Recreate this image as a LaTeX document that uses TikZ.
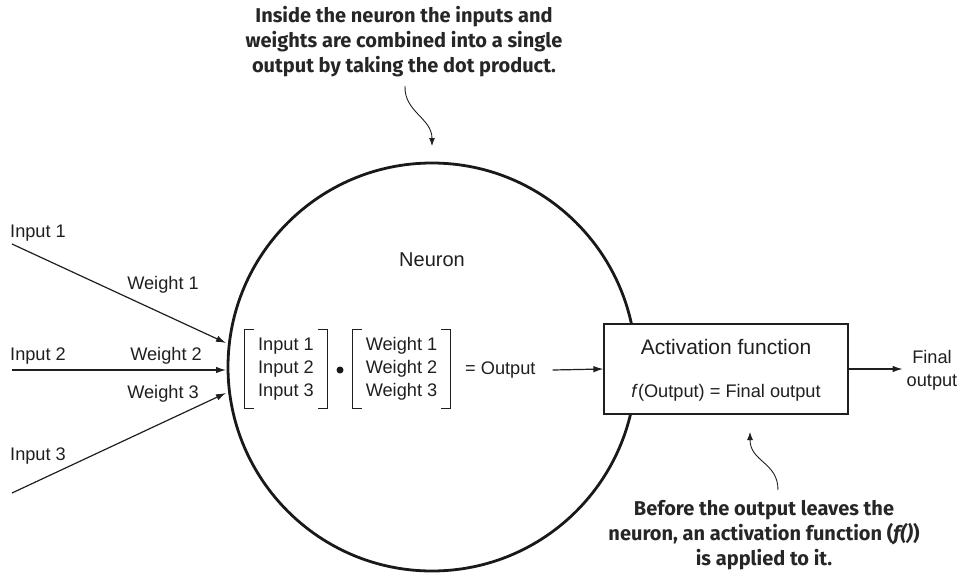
\documentclass[tikz,border=0pt]{standalone}
\usepackage{fontspec}
\setmainfont{Liberation Sans}
\newfontfamily\notefont{Fira Sans}
\usetikzlibrary{arrows.meta,calc}
\begin{document}
\begin{tikzpicture}[x=1pt,y=-1pt,
  lbl/.style={font=\fontsize{18.2}{23}\selectfont, inner sep=0, text=black!88},
  note/.style={font=\notefont\bfseries\fontsize{20}{25}\selectfont, align=center, inner sep=0, text=black!85},
  arr/.style={-{Latex[length=10pt,width=6.5pt]}, line width=1.2pt, black!88},
  curly/.style={-{Latex[length=8pt,width=6pt]}, line width=0.9pt, black!88},
  bracket/.style={line width=1.3pt, black!88},
  mat/.style={lbl, align=center, minimum height=78pt}]
\useasboundingbox (0,0) rectangle (961,576);

% neuron circle
\node[circle, draw=black!90, line width=2.8pt, minimum size=408pt, inner sep=0] (neuron) at (432,367) {};
\node[lbl, font=\fontsize{20}{24}\selectfont] (nlabel) at (432,260) {Neuron};

% top note
\node[note] (topnote) at (404,42) {Inside the neuron the inputs and\\weights are combined into a single\\output by taking the dot product.};
\coordinate (tn) at (405,86);
\coordinate (tip1) at (432,146);
\draw[curly] (tn) .. controls (404,112) and (432,118) .. (tip1);

% inputs
\node[lbl, anchor=west] (in1) at (10,233) {Input 1};
\node[lbl, anchor=west] (in2) at (10,356) {Input 2};
\node[lbl, anchor=west] (in3) at (10,456) {Input 3};
\coordinate (s1) at (12,244);
\coordinate (s2) at (12,370);
\coordinate (s3) at (12,493);
\coordinate (e1) at (226,343);
\coordinate (e2) at (226,370);
\coordinate (e3) at (226,393);
\draw[arr] (s1) -- (e1);
\draw[arr] (s2) -- (e2);
\draw[arr] (s3) -- (e3);
\node[lbl] (w1) at (163,285) {Weight 1};
\node[lbl] (w2) at (166,356) {Weight 2};
\node[lbl] (w3) at (163,394) {Weight 3};

% matrices
\node[mat, minimum width=82pt] (inmat) at (286,369) {Input 1\\Input 2\\Input 3};
\node[mat, minimum width=97pt] (wmat) at (401.5,369) {Weight 1\\Weight 2\\Weight 3};
\foreach \m in {inmat,wmat}{
  \draw[bracket] ([xshift=9pt]\m.north west) -| (\m.south west) -- ([xshift=9pt]\m.south west);
  \draw[bracket] ([xshift=-9pt]\m.north east) -| (\m.south east) -- ([xshift=-9pt]\m.south east);
}
\node[circle, fill=black!90, inner sep=0, minimum size=7pt] (dot) at (340,370) {};
\node[lbl, anchor=west] (out) at (465,370) {= Output};

% activation box
\node[draw=black!88, fill=white, line width=1.2pt, minimum width=244pt, minimum height=90pt, inner sep=0] (act) at (726,369) {};
\node[lbl, font=\fontsize{21}{24}\selectfont] (acttitle) at (726,347) {Activation function};
\node[lbl] (actf) at (726,393) {\textit{f}(Output) = Final output};
\draw[arr] ([xshift=17pt]out.east) -- (act.west);
\node[lbl, align=center] (final) at (932,370) {Final\\output};
\draw[arr] (act.east) -- ([xshift=54pt]act.east);

% bottom note
\coordinate (bn) at (778,490);
\coordinate (tip2) at (750,432);
\draw[curly] (bn) .. controls (778,462) and (750,462) .. (tip2);
\node[note] (botnote) at (764,535) {Before the output leaves the\\neuron, an activation function (\textit{f()})\\is applied to it.};
\end{tikzpicture}
\end{document}
